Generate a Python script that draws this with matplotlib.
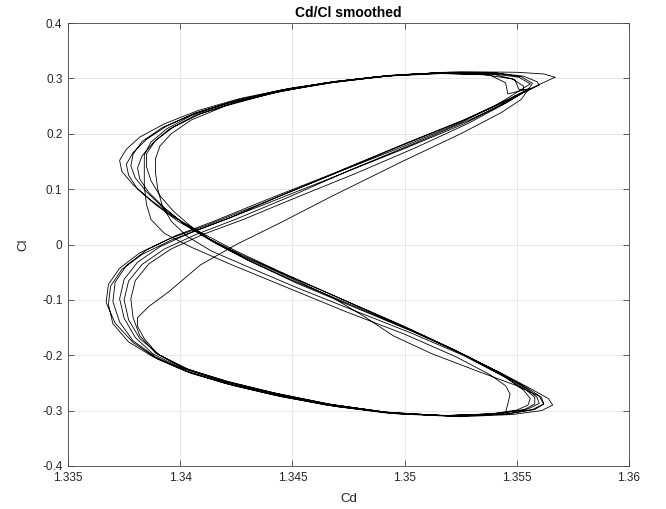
import numpy as np
import matplotlib
matplotlib.use('Agg')
import matplotlib.pyplot as plt
from matplotlib.ticker import FixedLocator, FixedFormatter

OUTPUT_FILE = 'out.png'

# Cd / Cl values, one list pair per oscillation cycle
cycle1_cd = [1.3567, 1.3562, 1.3550, 1.3525, 1.3500, 1.3475, 1.3450, 1.3427, 1.3408, 1.3393,
             1.3382, 1.3376, 1.3373, 1.3374, 1.3379, 1.3387, 1.3397, 1.3410, 1.3425, 1.3445,
             1.3470, 1.3495, 1.3520, 1.3542, 1.3556, 1.3564, 1.3566, 1.3561, 1.3548, 1.3525,
             1.3497, 1.3470, 1.3445, 1.3425, 1.3405, 1.3390, 1.3379, 1.3371, 1.3367, 1.3368,
             1.3373, 1.3382, 1.3395, 1.3412, 1.3435, 1.3465, 1.3497, 1.3525, 1.3546, 1.3560]
cycle1_cl = [0.302, 0.308, 0.311, 0.312, 0.307, 0.297, 0.283, 0.264, 0.242, 0.218,
             0.194, 0.172, 0.152, 0.132, 0.108, 0.080, 0.050, 0.020, -0.012, -0.050,
             -0.095, -0.140, -0.186, -0.230, -0.260, -0.278, -0.290, -0.300, -0.307, -0.311,
             -0.306, -0.293, -0.275, -0.256, -0.233, -0.207, -0.177, -0.142, -0.105, -0.072,
             -0.043, -0.015, 0.010, 0.035, 0.072, 0.122, 0.176, 0.222, 0.260, 0.288]

cycle2_cd = [1.3559, 1.3553, 1.3540, 1.3520, 1.3495, 1.3470, 1.3447, 1.3425, 1.3407, 1.3394,
             1.3385, 1.3379, 1.3376, 1.3377, 1.3381, 1.3389, 1.3399, 1.3412, 1.3428, 1.3450,
             1.3475, 1.3500, 1.3523, 1.3543, 1.3555, 1.3561, 1.3562, 1.3557, 1.3545, 1.3522,
             1.3495, 1.3468, 1.3443, 1.3422, 1.3403, 1.3389, 1.3379, 1.3373, 1.3370, 1.3371,
             1.3376, 1.3385, 1.3398, 1.3415, 1.3438, 1.3468, 1.3500, 1.3527, 1.3546, 1.3556]
cycle2_cl = [0.294, 0.304, 0.310, 0.311, 0.306, 0.295, 0.280, 0.260, 0.238, 0.214,
             0.190, 0.166, 0.145, 0.125, 0.100, 0.072, 0.042, 0.012, -0.020, -0.060,
             -0.104, -0.148, -0.192, -0.233, -0.260, -0.276, -0.288, -0.298, -0.306, -0.310,
             -0.305, -0.291, -0.272, -0.252, -0.229, -0.203, -0.174, -0.140, -0.103, -0.068,
             -0.038, -0.010, 0.016, 0.042, 0.080, 0.128, 0.182, 0.226, 0.262, 0.282]

cycle3_cd = [1.3546, 1.3545, 1.3538, 1.3518, 1.3492, 1.3467, 1.3444, 1.3423, 1.3406, 1.3395,
             1.3388, 1.3383, 1.3381, 1.3382, 1.3386, 1.3393, 1.3402, 1.3414, 1.3430, 1.3452,
             1.3478, 1.3503, 1.3526, 1.3545, 1.3555, 1.3559, 1.3560, 1.3555, 1.3542, 1.3520,
             1.3493, 1.3466, 1.3441, 1.3420, 1.3401, 1.3388, 1.3380, 1.3375, 1.3373, 1.3375,
             1.3381, 1.3391, 1.3405, 1.3422, 1.3443, 1.3470, 1.3500, 1.3525, 1.3540, 1.3545]
cycle3_cl = [0.272, 0.292, 0.306, 0.309, 0.304, 0.292, 0.276, 0.255, 0.232, 0.208,
             0.184, 0.160, 0.138, 0.118, 0.094, 0.066, 0.036, 0.006, -0.028, -0.068,
             -0.112, -0.155, -0.198, -0.238, -0.262, -0.276, -0.287, -0.297, -0.305, -0.309,
             -0.304, -0.289, -0.269, -0.248, -0.224, -0.198, -0.168, -0.133, -0.098, -0.063,
             -0.032, -0.004, 0.022, 0.048, 0.085, 0.130, 0.178, 0.220, 0.250, 0.262]

cycle4_cd = [1.3556, 1.3551, 1.3538, 1.3515, 1.3490, 1.3465, 1.3442, 1.3422, 1.3405, 1.3394,
             1.3387, 1.3384, 1.3384, 1.3384, 1.3385, 1.3387, 1.3393, 1.3405, 1.3422, 1.3446,
             1.3473, 1.3500, 1.3523, 1.3538, 1.3545, 1.3547, 1.3546, 1.3545, 1.3535, 1.3515,
             1.3490, 1.3464, 1.3440, 1.3419, 1.3401, 1.3389, 1.3382, 1.3379, 1.3378, 1.3380,
             1.3386, 1.3396, 1.3410, 1.3428, 1.3450, 1.3478, 1.3505, 1.3528, 1.3545, 1.3553]
cycle4_cl = [0.290, 0.302, 0.309, 0.310, 0.304, 0.292, 0.276, 0.256, 0.233, 0.209,
             0.185, 0.162, 0.138, 0.105, 0.072, 0.045, 0.020, -0.005, -0.035, -0.075,
             -0.120, -0.162, -0.203, -0.235, -0.255, -0.270, -0.288, -0.303, -0.308, -0.309,
             -0.302, -0.287, -0.267, -0.246, -0.222, -0.196, -0.165, -0.132, -0.098, -0.065,
             -0.035, -0.008, 0.018, 0.045, 0.082, 0.128, 0.175, 0.218, 0.255, 0.275]

cycle5_cd = [1.3553, 1.3548, 1.3535, 1.3512, 1.3487, 1.3462, 1.3440, 1.3420, 1.3405, 1.3396,
             1.3391, 1.3389, 1.3389, 1.3390, 1.3392, 1.3396, 1.3403, 1.3414, 1.3430, 1.3452,
             1.3478, 1.3503, 1.3526, 1.3544, 1.3554, 1.3558, 1.3558, 1.3553, 1.3540, 1.3518,
             1.3492, 1.3466, 1.3442, 1.3421, 1.3402, 1.3390, 1.3384, 1.3381, 1.3381, 1.3386,
             1.3395, 1.3409, 1.3425, 1.3445, 1.3468, 1.3499, 1.3525, 1.3543, 1.3552]
cycle5_cl = [0.286, 0.299, 0.307, 0.309, 0.303, 0.290, 0.272, 0.250, 0.225, 0.200,
             0.178, 0.155, 0.130, 0.100, 0.070, 0.042, 0.015, -0.012, -0.040, -0.078,
             -0.120, -0.160, -0.200, -0.238, -0.262, -0.276, -0.288, -0.299, -0.306, -0.309,
             -0.303, -0.288, -0.268, -0.247, -0.224, -0.198, -0.170, -0.148, -0.132, -0.112,
             -0.085, -0.037, 0.000, 0.040, 0.088, 0.150, 0.200, 0.238, 0.262]

cycle6_cd = [1.3557, 1.3552, 1.3540, 1.3518, 1.3493, 1.3468, 1.3445, 1.3424, 1.3406, 1.3392,
             1.3383, 1.3379, 1.3378, 1.3380, 1.3385, 1.3392, 1.3401, 1.3413, 1.3428, 1.3448,
             1.3468, 1.3482, 1.3495, 1.3512, 1.3532, 1.3550, 1.3560, 1.3562, 1.3558, 1.3546,
             1.3523, 1.3496, 1.3469, 1.3444, 1.3423, 1.3404, 1.3391, 1.3382, 1.3377, 1.3375,
             1.3377, 1.3383, 1.3393, 1.3407, 1.3425, 1.3448, 1.3476, 1.3504, 1.3529, 1.3547,
             1.3555]
cycle6_cl = [0.291, 0.303, 0.310, 0.311, 0.305, 0.294, 0.279, 0.259, 0.236, 0.211,
             0.186, 0.163, 0.142, 0.120, 0.095, 0.068, 0.040, 0.010, -0.022, -0.058,
             -0.096, -0.130, -0.165, -0.197, -0.228, -0.255, -0.274, -0.288, -0.298, -0.306,
             -0.310, -0.305, -0.290, -0.270, -0.250, -0.226, -0.200, -0.170, -0.136, -0.100,
             -0.066, -0.036, -0.008, 0.018, 0.046, 0.085, 0.135, 0.182, 0.225, 0.260,
             0.280]

cycle7_cd = [1.3551, 1.3549, 1.3540, 1.3520, 1.3494, 1.3469, 1.3446, 1.3426, 1.3409, 1.3397,
             1.3389, 1.3385, 1.3385, 1.3387, 1.3391, 1.3397, 1.3405, 1.3416, 1.3431, 1.3452,
             1.3478, 1.3504, 1.3527, 1.3545, 1.3553, 1.3556, 1.3555, 1.3550, 1.3538, 1.3517,
             1.3491, 1.3465, 1.3441, 1.3420, 1.3402, 1.3388, 1.3377, 1.3370, 1.3368, 1.3369,
             1.3374, 1.3383, 1.3396, 1.3413, 1.3436, 1.3466, 1.3498, 1.3526, 1.3543, 1.3549]
cycle7_cl = [0.280, 0.298, 0.307, 0.310, 0.305, 0.293, 0.278, 0.258, 0.236, 0.212,
             0.188, 0.164, 0.140, 0.115, 0.088, 0.060, 0.032, 0.002, -0.030, -0.070,
             -0.114, -0.158, -0.200, -0.240, -0.263, -0.278, -0.290, -0.299, -0.306, -0.309,
             -0.304, -0.290, -0.271, -0.251, -0.228, -0.203, -0.176, -0.143, -0.108, -0.075,
             -0.045, -0.018, 0.008, 0.034, 0.070, 0.118, 0.170, 0.217, 0.252, 0.268]

x_ticks = [1.335, 1.34, 1.345, 1.35, 1.355, 1.36]
x_tick_labels = ['1.335', '1.34', '1.345', '1.35', '1.355', '1.36']
y_ticks = [-0.4, -0.3, -0.2, -0.1, 0.0, 0.1, 0.2, 0.3, 0.4]
y_tick_labels = ['-0.4', '-0.3', '-0.2', '-0.1', '0', '0.1', '0.2', '0.3', '0.4']


def draw_loops():
    plt.rcParams['font.family'] = ['Liberation Sans', 'DejaVu Sans']
    plt.rcParams['axes.unicode_minus'] = False

    fig = plt.figure(figsize=(6.66, 5.09), dpi=100)
    ax = fig.add_axes([68 / 666, 1 - 466 / 509, 561 / 666, 443 / 509])

    # the signal is one continuous time series, so join the cycles
    cd = np.concatenate([cycle1_cd, cycle2_cd, cycle3_cd, cycle4_cd,
                         cycle5_cd, cycle6_cd, cycle7_cd, cycle1_cd[:1]])
    cl = np.concatenate([cycle1_cl, cycle2_cl, cycle3_cl, cycle4_cl,
                         cycle5_cl, cycle6_cl, cycle7_cl, cycle1_cl[:1]])
    ax.plot(cd, cl, color='black', linewidth=0.6, solid_joinstyle='round')

    ax.set_xlim(1.335, 1.36)
    ax.set_ylim(-0.4, 0.4)
    ax.xaxis.set_major_locator(FixedLocator(x_ticks))
    ax.xaxis.set_major_formatter(FixedFormatter(x_tick_labels))
    ax.yaxis.set_major_locator(FixedLocator(y_ticks))
    ax.yaxis.set_major_formatter(FixedFormatter(y_tick_labels))

    ax.grid(True, color='#e3e3e3', linewidth=0.6)
    ax.set_axisbelow(True)
    for spine in ax.spines.values():
        spine.set_color('#444444')
        spine.set_linewidth(0.6)
    ax.tick_params(direction='in', top=True, right=True, length=4, width=0.6,
                   colors='#444444', labelcolor='#262626', labelsize=8.5, pad=4)

    ax.set_xlabel('Cd', fontsize=9.5, color='#262626', labelpad=7)
    ax.set_ylabel('Cl', fontsize=9.5, color='#262626', labelpad=9)
    ax.set_title('Cd/Cl smoothed', fontsize=10, fontweight='bold', pad=4)

    fig.savefig(OUTPUT_FILE, dpi=100)


if __name__ == '__main__':
    draw_loops()
